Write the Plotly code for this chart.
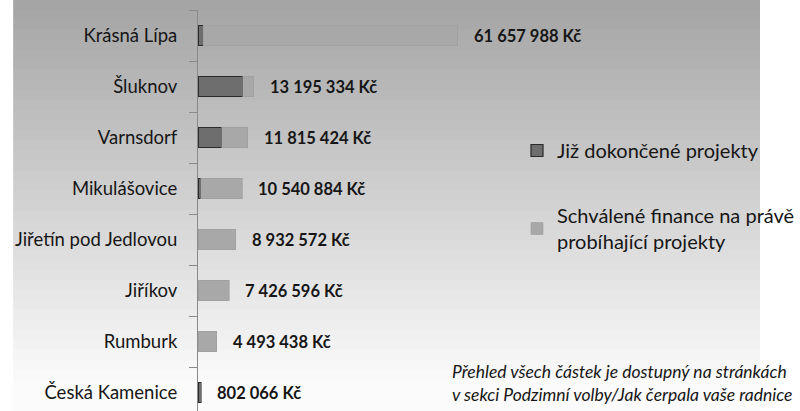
import plotly.graph_objects as go

# ---- data ----
towns = ["Krásná Lípa", "Šluknov", "Varnsdorf", "Mikulášovice",
         "Jiřetín pod Jedlovou", "Jiříkov", "Rumburk", "Česká Kamenice"]
totals = [61657988, 13195334, 11815424, 10540884, 8932572, 7426596, 4493438, 802066]
completed = [1300000, 10600000, 5600000, 700000, 0, 0, 0, 802066]
approved = [t - c for t, c in zip(totals, completed)]
total_labels = [f"{v:,}".replace(",", " ") + " Kč" for v in totals]

name_done = "Již dokončené projekty"
name_running = "Schválené finance na právě<br>probíhající projekty"
note_lines = ["Přehled všech částek je dostupný na stránkách",
              "v sekci Podzimní volby/Jak čerpala vaše radnice"]

W, H = 800, 411
L, R, T, B = 198, 0, 10, 0
plot_w = W - L - R
plot_h = H - T - B
px_per_unit = 278 / 61657988
FONT = "Lato"
INK = "#161616"

fig = go.Figure()
fig.add_trace(go.Bar(
    y=towns, x=completed, orientation="h", name=name_done,
    legendgroup="a", width=0.4,
    marker=dict(color="#6e6e6e", line=dict(color="#2b2b2b", width=1.2)),
))
fig.add_trace(go.Bar(
    y=towns, x=approved, orientation="h", name=name_running,
    legendgroup="b", width=0.4,
    marker=dict(color="#a8a8a8", line=dict(color="#9c9c9c", width=0.6)),
))

for t, v, lab in zip(towns, totals, total_labels):
    fig.add_annotation(x=v, y=t, text=lab, showarrow=False, xanchor="left",
                       xshift=14, font=dict(family=FONT, size=16.5, color=INK, weight="bold"))

# gradient background
n = 42
for i in range(n):
    py0 = i * 10
    py1 = py0 + 10
    f = min(1.0, (py0 + 5) / 380)
    g = int(0xa4 + (0xfb - 0xa4) * f)
    col = f"rgb({g},{g},{g})"
    fig.add_shape(type="rect", xref="paper", yref="paper",
                  x0=-L / plot_w, x1=1.0,
                  y0=(H - B - py1) / plot_h, y1=(H - B - py0) / plot_h,
                  fillcolor=col, line=dict(width=0), layer="below")

fig.add_annotation(xref="paper", yref="paper", x=(836 - L) / plot_w,
                   y=(H - B - 382.5) / plot_h, text="<br>".join(note_lines),
                   showarrow=False, xanchor="right", yanchor="middle", align="left",
                   font=dict(family=FONT, size=17.5, color=INK, style="italic"))

fig.update_layout(
    width=W, height=H,
    margin=dict(l=L, r=R, t=T, b=B, pad=0),
    barmode="stack",
    paper_bgcolor="white",
    plot_bgcolor="rgba(0,0,0,0)",
    font=dict(family=FONT, color=INK),
    xaxis=dict(range=[0, plot_w / px_per_unit], visible=False, automargin=False),
    yaxis=dict(range=[7.36, -0.5], showline=True, linecolor="#8a8a8a", linewidth=1,
               ticks="outside", ticklen=8, tickcolor="#8a8a8a", tickson="boundaries",
               tickfont=dict(family=FONT, size=18.5, color=INK), automargin=False,
               ticklabelstandoff=16, showgrid=False, zeroline=False),
    showlegend=True,
    legend=dict(x=(540 - L) / plot_w, y=(H - B - 131) / plot_h, xanchor="left", yanchor="top",
                bgcolor="rgba(0,0,0,0)", traceorder="grouped", tracegroupgap=36,
                itemwidth=30, font=dict(family=FONT, size=20, color=INK)),
    bargap=0.6,
)

fig.write_html("out.html", config={"displayModeBar": False},
               post_script="document.body.style.margin='0';")
